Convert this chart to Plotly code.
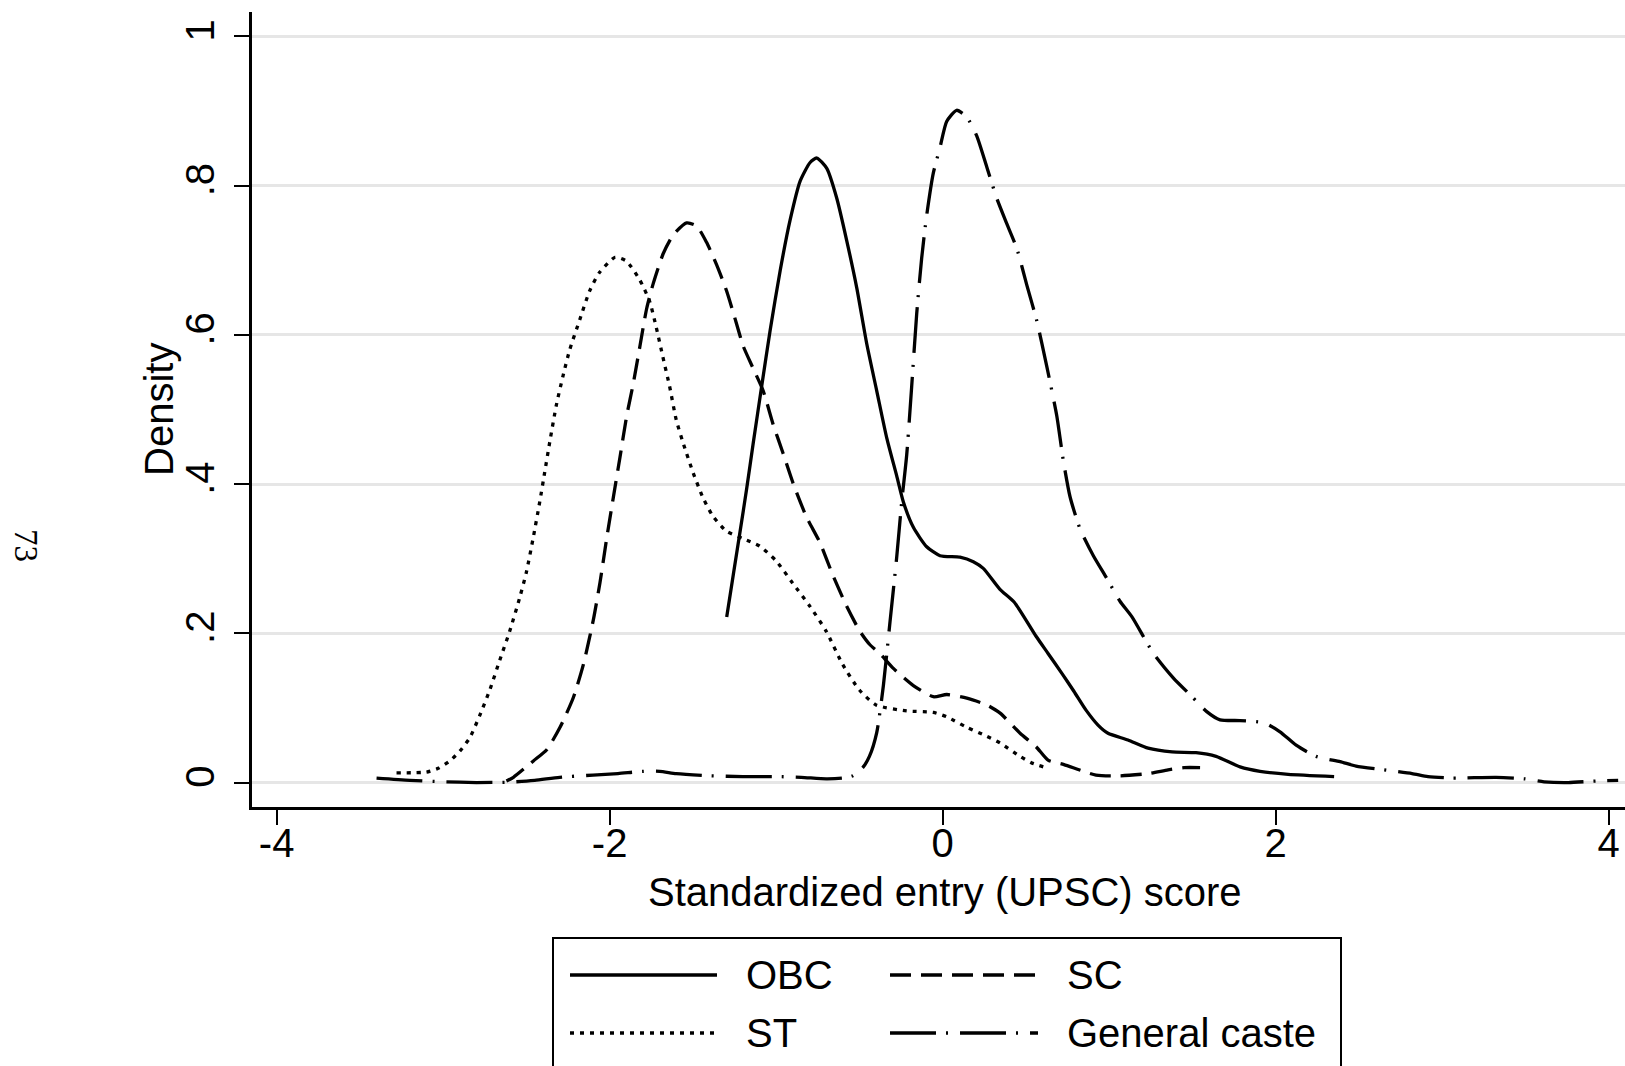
import plotly.graph_objects as go

# Kernel density estimates of the standardized entry (UPSC) score, by caste group
obc_x = [-1.297, -1.257, -1.217, -1.177, -1.137, -1.087, -1.036, -0.976, -0.916, -0.856,
         -0.796, -0.756, -0.696, -0.636, -0.576, -0.516, -0.456, -0.396, -0.336, -0.276,
         -0.236, -0.176, -0.096, -0.016, 0.104, 0.184, 0.244, 0.344, 0.429, 0.561,
         0.633, 0.717, 0.789, 0.861, 0.933, 0.993, 1.113, 1.234, 1.378, 1.522,
         1.642, 1.786, 1.906, 2.075, 2.351]
obc_y = [0.222, 0.279, 0.336, 0.394, 0.456, 0.531, 0.606, 0.686, 0.754, 0.806,
         0.831, 0.837, 0.823, 0.783, 0.726, 0.663, 0.588, 0.525, 0.462, 0.411,
         0.376, 0.342, 0.316, 0.304, 0.302, 0.296, 0.287, 0.259, 0.242, 0.196,
         0.173, 0.146, 0.122, 0.097, 0.077, 0.066, 0.057, 0.046, 0.041, 0.040,
         0.035, 0.021, 0.015, 0.011, 0.008]

sc_x = [-2.62, -2.578, -2.458, -2.378, -2.298, -2.218, -2.158, -2.098, -2.058, -2.018,
        -1.978, -1.938, -1.898, -1.858, -1.818, -1.778, -1.738, -1.678, -1.618, -1.538,
        -1.478, -1.418, -1.358, -1.298, -1.238, -1.198, -1.138, -1.078, -1.018, -0.958,
        -0.898, -0.818, -0.738, -0.658, -0.578, -0.498, -0.438, -0.378, -0.296, -0.176,
        -0.056, 0.025, 0.145, 0.265, 0.345, 0.465, 0.561, 0.633, 0.729, 0.921,
        1.065, 1.234, 1.354, 1.450, 1.546]
sc_y = [0.002, 0.007, 0.029, 0.044, 0.074, 0.114, 0.158, 0.218, 0.268, 0.327,
        0.382, 0.436, 0.491, 0.535, 0.585, 0.635, 0.669, 0.709, 0.734, 0.750,
        0.746, 0.724, 0.694, 0.659, 0.615, 0.585, 0.555, 0.525, 0.480, 0.441,
        0.401, 0.356, 0.322, 0.277, 0.237, 0.203, 0.185, 0.173, 0.153, 0.130,
        0.115, 0.118, 0.113, 0.104, 0.093, 0.066, 0.048, 0.030, 0.024, 0.010,
        0.009, 0.012, 0.017, 0.020, 0.020]

st_x = [-3.28, -3.10, -3.03, -2.96, -2.90, -2.84, -2.78, -2.72, -2.66, -2.60,
        -2.54, -2.50, -2.46, -2.42, -2.39, -2.36, -2.32, -2.28, -2.24, -2.18,
        -2.12, -2.06, -1.967, -1.90, -1.82, -1.76, -1.72, -1.68, -1.64, -1.60,
        -1.56, -1.50, -1.44, -1.38, -1.30, -1.20, -1.10, -1.00, -0.90, -0.80,
        -0.70, -0.60, -0.50, -0.40, -0.216, -0.056, 0.025, 0.145, 0.265, 0.345,
        0.465, 0.537, 0.633]
st_y = [0.013, 0.014, 0.019, 0.029, 0.042, 0.060, 0.090, 0.124, 0.164, 0.203,
        0.248, 0.282, 0.327, 0.376, 0.416, 0.456, 0.506, 0.545, 0.580, 0.620,
        0.659, 0.684, 0.704, 0.699, 0.674, 0.645, 0.610, 0.570, 0.531, 0.486,
        0.456, 0.416, 0.382, 0.357, 0.337, 0.327, 0.317, 0.297, 0.267, 0.237,
        0.203, 0.158, 0.124, 0.104, 0.096, 0.094, 0.088, 0.074, 0.062, 0.053,
        0.035, 0.026, 0.019]

gen_x = [-3.40, -3.20, -3.00, -2.80, -2.60, -2.45, -2.30, -2.10, -1.95, -1.80,
         -1.70, -1.60, -1.40, -1.20, -1.00, -0.85, -0.70, -0.60, -0.54, -0.48,
         -0.44, -0.396, -0.356, -0.316, -0.276, -0.246, -0.216, -0.186, -0.156, -0.126,
         -0.096, -0.056, -0.016, 0.024, 0.084, 0.144, 0.204, 0.265, 0.325, 0.385,
         0.445, 0.505, 0.565, 0.625, 0.685, 0.725, 0.765, 0.825, 0.905, 0.985,
         1.065, 1.137, 1.266, 1.386, 1.498, 1.586, 1.666, 1.786, 1.930, 2.026,
         2.123, 2.243, 2.387, 2.483, 2.651, 2.819, 2.915, 3.059, 3.324, 3.492,
         3.612, 3.757, 3.925, 4.057]
gen_y = [0.006, 0.003, 0.001, 0.000, 0.0005, 0.003, 0.007, 0.010, 0.012, 0.015,
         0.015, 0.012, 0.009, 0.008, 0.008, 0.007, 0.005, 0.006, 0.009, 0.020,
         0.035, 0.067, 0.130, 0.216, 0.302, 0.376, 0.439, 0.531, 0.628, 0.703,
         0.760, 0.817, 0.851, 0.886, 0.901, 0.892, 0.867, 0.825, 0.783, 0.749,
         0.716, 0.667, 0.619, 0.558, 0.492, 0.431, 0.383, 0.340, 0.304, 0.274,
         0.243, 0.222, 0.173, 0.140, 0.115, 0.095, 0.084, 0.083, 0.080, 0.068,
         0.050, 0.035, 0.028, 0.022, 0.017, 0.012, 0.008, 0.006, 0.007, 0.005,
         0.001, 0.000, 0.002, 0.003]

series_names = ["OBC", "SC", "ST", "General caste"]
series_dash = ["solid", "21px,10px", "4px,6px", "46px,10px,2px,12px"]

x_ticks = [-4, -2, 0, 2, 4]
x_tick_text = ["-4", "-2", "0", "2", "4"]
y_ticks = [0, 0.2, 0.4, 0.6, 0.8, 1]
y_tick_text = ["0", ".2", ".4", ".6", ".8", "1"]

x_title = "Standardized entry (UPSC) score"
y_title = "Density"
page_number = "73"

W, H = 1625, 1066
L, R, T, B = 252, 0, 12, 259
PW, PH = W - L - R, H - T - B

SANS = "Liberation Sans, Arial, Helvetica, sans-serif"
SERIF = "Liberation Serif, Times New Roman, serif"
FS = 40
LW = 3.3


def px_x(px):
    return (px - L) / PW


def px_y(py):
    return (H - B - py) / PH


fig = go.Figure()
series = [(obc_x, obc_y), (sc_x, sc_y), (st_x, st_y), (gen_x, gen_y)]
for name, dash, (xs, ys) in zip(series_names, series_dash, series):
    fig.add_trace(go.Scatter(
        x=xs, y=ys, mode="lines", name=name, showlegend=False,
        line=dict(color="black", width=LW, dash=dash, shape="spline", smoothing=0.6),
    ))

# legend box in two columns: OBC | SC on the first row, ST | General caste on the second
shapes = [dict(type="rect", xref="paper", yref="paper",
               x0=px_x(553), x1=px_x(1341), y0=px_y(1120), y1=px_y(938),
               line=dict(color="black", width=2), fillcolor="rgba(0,0,0,0)")]
annotations = []
slots = [(0, 0), (1, 0), (0, 1), (1, 1)]  # (column, row) for each series
row_y = [975, 1033]
col_px = [(570, 717, 744), (890, 1038, 1065)]
for idx, (c, r) in enumerate(slots):
    x0, x1, xt = col_px[c]
    yy = row_y[r]
    shapes.append(dict(type="line", xref="paper", yref="paper",
                       x0=px_x(x0), x1=px_x(x1), y0=px_y(yy), y1=px_y(yy),
                       line=dict(color="black", width=LW, dash=series_dash[idx])))
    annotations.append(dict(text=series_names[idx], xref="paper", yref="paper",
                            x=px_x(xt), y=px_y(yy), xanchor="left", yanchor="middle",
                            showarrow=False, font=dict(family=SANS, size=FS, color="black")))

annotations.append(dict(text=x_title, xref="paper", yref="paper",
                        x=px_x(945), y=px_y(892), xanchor="center", yanchor="middle",
                        showarrow=False, font=dict(family=SANS, size=FS, color="black")))
annotations.append(dict(text=y_title, xref="paper", yref="paper", textangle=-90,
                        x=px_x(159), y=px_y(410), xanchor="center", yanchor="middle",
                        showarrow=False, font=dict(family=SANS, size=FS, color="black")))
annotations.append(dict(text=page_number, xref="paper", yref="paper", textangle=90,
                        x=px_x(26), y=px_y(545), xanchor="center", yanchor="middle",
                        showarrow=False, font=dict(family=SERIF, size=33, color="black")))

fig.update_layout(
    width=W, height=H,
    margin=dict(l=L, r=R, t=T, b=B, pad=0),
    paper_bgcolor="white", plot_bgcolor="white",
    shapes=shapes, annotations=annotations,
    xaxis=dict(range=[-4.148, 4.098], tickvals=x_ticks, ticktext=x_tick_text,
               showgrid=False, zeroline=False, showline=True, linecolor="black",
               linewidth=2.5, ticks="outside", ticklen=15, tickwidth=2, tickcolor="black",
               ticklabelstandoff=-16,
               tickfont=dict(family=SANS, size=FS, color="black"), automargin=False),
    yaxis=dict(range=[-0.0328, 1.0327], tickvals=y_ticks, ticktext=y_tick_text,
               showgrid=True, gridcolor="#e6e6e6", gridwidth=3, zeroline=False,
               showline=True, linecolor="black", linewidth=2.5, ticks="outside",
               ticklen=15, tickwidth=2, tickcolor="black", tickangle=-90,
               ticklabelstandoff=4,
               tickfont=dict(family=SANS, size=FS, color="black"), automargin=False),
)

fig.write_html("out.html")
